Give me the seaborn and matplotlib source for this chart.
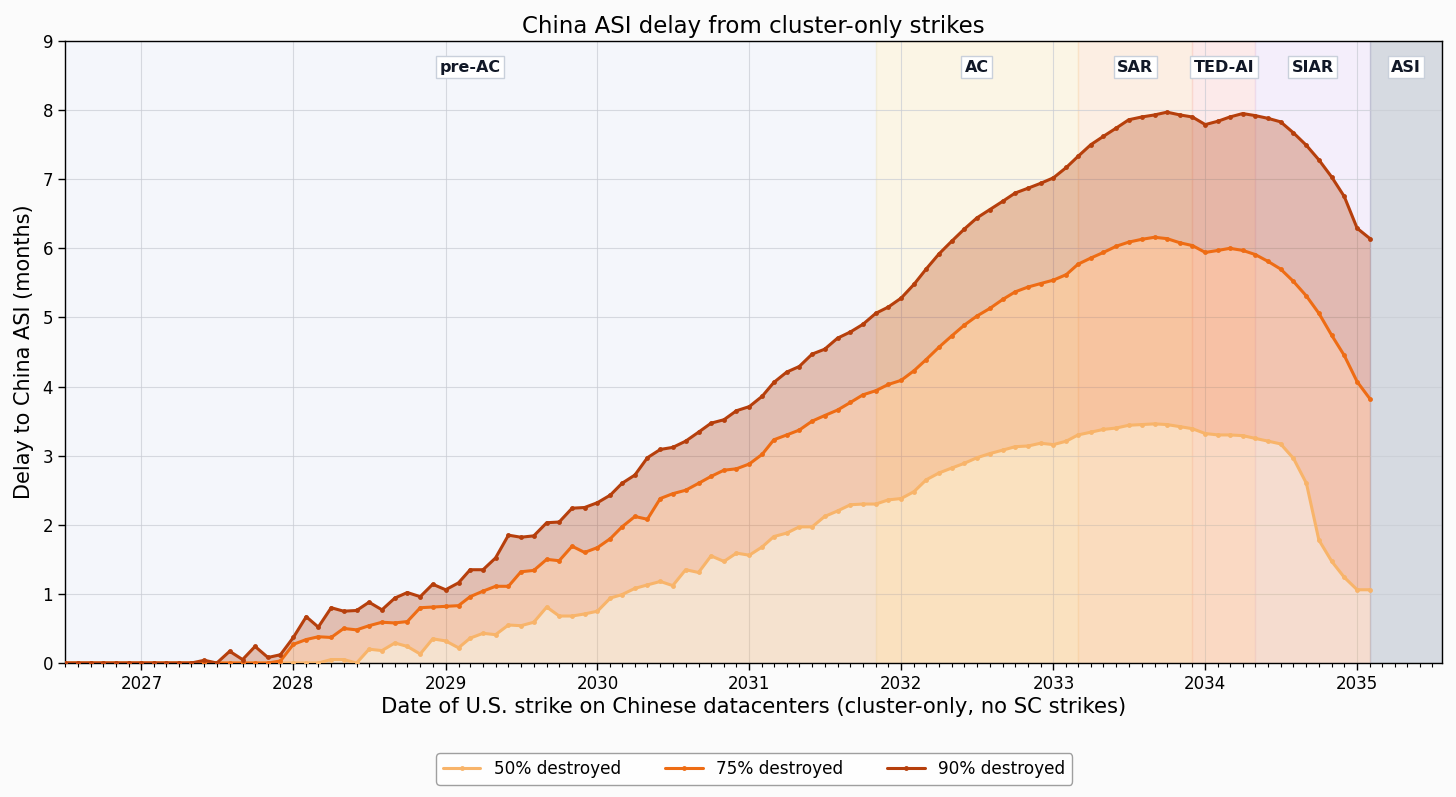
import matplotlib
matplotlib.use("Agg")
import matplotlib.pyplot as plt
import matplotlib.dates as mdates
import seaborn as sns
import pandas as pd

# monthly strike dates, Jul 2026 .. Feb 2035
strike_dates = pd.date_range("2026-07-01", "2035-02-01", freq="MS")

delay_50 = [0.0] * 21 + [
    0.05, 0.05, 0.00, 0.20, 0.18, 0.29, 0.24, 0.13, 0.35, 0.32,
    0.22, 0.36, 0.43, 0.41, 0.55, 0.54, 0.59, 0.81, 0.68, 0.68,
    0.71, 0.75, 0.94, 0.99, 1.08, 1.13, 1.18, 1.12, 1.35, 1.31,
    1.55, 1.47, 1.59, 1.56, 1.68, 1.83, 1.88, 1.97, 1.97, 2.12,
    2.20, 2.29, 2.30, 2.30, 2.36, 2.38, 2.48, 2.65, 2.75, 2.82,
    2.89, 2.97, 3.03, 3.08, 3.13, 3.14, 3.18, 3.16, 3.21, 3.30,
    3.34, 3.38, 3.40, 3.44, 3.45, 3.46, 3.45, 3.42, 3.39, 3.32,
    3.30, 3.30, 3.29, 3.25, 3.21, 3.17, 2.96, 2.60, 1.78, 1.47,
    1.24, 1.06, 1.06]

delay_75 = [0.0] * 17 + [
    0.03, 0.27, 0.34, 0.38, 0.37, 0.50, 0.48, 0.54, 0.59, 0.58,
    0.60, 0.80, 0.81, 0.82, 0.83, 0.96, 1.04, 1.11, 1.11, 1.32,
    1.34, 1.50, 1.48, 1.69, 1.60, 1.67, 1.80, 1.97, 2.12, 2.08,
    2.38, 2.45, 2.50, 2.60, 2.70, 2.79, 2.81, 2.88, 3.02, 3.23,
    3.30, 3.37, 3.50, 3.58, 3.66, 3.77, 3.88, 3.94, 4.03, 4.09,
    4.23, 4.39, 4.57, 4.73, 4.89, 5.02, 5.13, 5.26, 5.37, 5.44,
    5.49, 5.54, 5.62, 5.77, 5.86, 5.94, 6.03, 6.09, 6.13, 6.16,
    6.14, 6.08, 6.04, 5.94, 5.97, 6.00, 5.97, 5.91, 5.81, 5.70,
    5.52, 5.31, 5.06, 4.74, 4.45, 4.07, 3.82]

delay_90 = [0.0] * 11 + [
    0.04, 0.00, 0.17, 0.05, 0.24, 0.08, 0.12, 0.37, 0.67, 0.52,
    0.80, 0.75, 0.76, 0.88, 0.77, 0.94, 1.02, 0.96, 1.14, 1.06,
    1.16, 1.35, 1.35, 1.52, 1.85, 1.82, 1.84, 2.03, 2.04, 2.24,
    2.25, 2.32, 2.43, 2.60, 2.72, 2.97, 3.09, 3.12, 3.21, 3.34,
    3.47, 3.52, 3.65, 3.71, 3.86, 4.06, 4.21, 4.29, 4.47, 4.54,
    4.70, 4.79, 4.90, 5.06, 5.15, 5.28, 5.48, 5.70, 5.92, 6.10,
    6.28, 6.44, 6.56, 6.68, 6.80, 6.87, 6.94, 7.02, 7.17, 7.33,
    7.50, 7.62, 7.74, 7.86, 7.90, 7.93, 7.97, 7.93, 7.90, 7.79,
    7.84, 7.90, 7.95, 7.92, 7.88, 7.83, 7.67, 7.49, 7.28, 7.03,
    6.75, 6.29, 6.14]

series_labels = ["50% destroyed", "75% destroyed", "90% destroyed"]
series_colors = ["#f8b46a", "#ee6c14", "#b63f0c"]

phase_names = ["pre-AC", "AC", "SAR", "TED-AI", "SIAR", "ASI"]
phase_starts = ["2026-07-01", "2031-11-01", "2033-03-01", "2033-12-01", "2034-05-01", "2035-02-01"]
phase_colors = ["#e2e8f6", "#f4e5b5", "#f9d1af", "#f9c3c3", "#e0d1f4", "#8a95a9"]
x_end = pd.Timestamp("2035-07-24")

sns.set_style("white")
plt.rcParams["font.family"] = ["DejaVu Sans"]
plt.rcParams["text.color"] = "black"
plt.rcParams["axes.labelcolor"] = "black"
plt.rcParams["xtick.color"] = "black"
plt.rcParams["ytick.color"] = "black"

fig = plt.figure(figsize=(14.56, 7.97), dpi=100, facecolor="#fbfbfb")
ax = fig.add_axes([0.0446, 0.1681, 0.9458, 0.7805])
ax.set_facecolor("white")

# phase bands
bounds = [pd.Timestamp(s) for s in phase_starts] + [x_end]
for name, c, a, b in zip(phase_names, phase_colors, bounds[:-1], bounds[1:]):
    ax.axvspan(a, b, color=c, alpha=0.35, lw=1, zorder=0)
    mid = a + (b - a) / 2
    ax.text(mid, 8.62, name, ha="center", va="center", fontsize=11.5, fontweight="bold",
            color="#111827", zorder=6,
            bbox=dict(boxstyle="square,pad=0.22", facecolor="white", edgecolor="#c9d0db", lw=1))

# fills between consecutive curves
ax.fill_between(strike_dates, 0, delay_50, color=series_colors[0], alpha=0.3, lw=0, zorder=2)
ax.fill_between(strike_dates, delay_50, delay_75, color=series_colors[1], alpha=0.32, lw=0, zorder=2)
ax.fill_between(strike_dates, delay_75, delay_90, color=series_colors[2], alpha=0.3, lw=0, zorder=2)

for vals, lab, c in zip([delay_50, delay_75, delay_90], series_labels, series_colors):
    sns.lineplot(x=strike_dates, y=vals, ax=ax, color=c, label=lab, linewidth=2.2,
                 marker="o", markersize=3.5, markeredgewidth=0, zorder=4)

ax.grid(True, color="#c9ccd4", linewidth=0.8, alpha=0.7)
ax.set_axisbelow(True)

ax.set_xlim(pd.Timestamp("2026-07-01"), x_end)
ax.set_ylim(0, 9)
ax.set_yticks(range(0, 10))
ax.xaxis.set_major_locator(mdates.YearLocator())
ax.xaxis.set_major_formatter(mdates.DateFormatter("%Y"))
ax.xaxis.set_minor_locator(mdates.MonthLocator())
ax.tick_params(axis="both", which="major", direction="out", length=5, width=1, labelsize=12,
               bottom=True, left=True)
ax.tick_params(axis="x", which="minor", direction="out", length=3, width=0.8, bottom=True)
for sp in ax.spines.values():
    sp.set_visible(True)
    sp.set_color("black")
    sp.set_linewidth(1.0)

ax.set_title("China ASI delay from cluster-only strikes", fontsize=16.5, pad=6)
ax.set_xlabel("Date of U.S. strike on Chinese datacenters (cluster-only, no SC strikes)", fontsize=15.2,
              labelpad=3)
ax.set_ylabel("Delay to China ASI (months)", fontsize=15, labelpad=6)

handles, labels = ax.get_legend_handles_labels()
ax.get_legend().remove()
fig.legend(handles, labels, loc="center", bbox_to_anchor=(0.518, 0.035), ncol=3, fontsize=12.2,
           frameon=True, edgecolor="#888888", fancybox=True, columnspacing=2.6, handlelength=2.2)

fig.savefig("out.png", dpi=100, facecolor=fig.get_facecolor())
